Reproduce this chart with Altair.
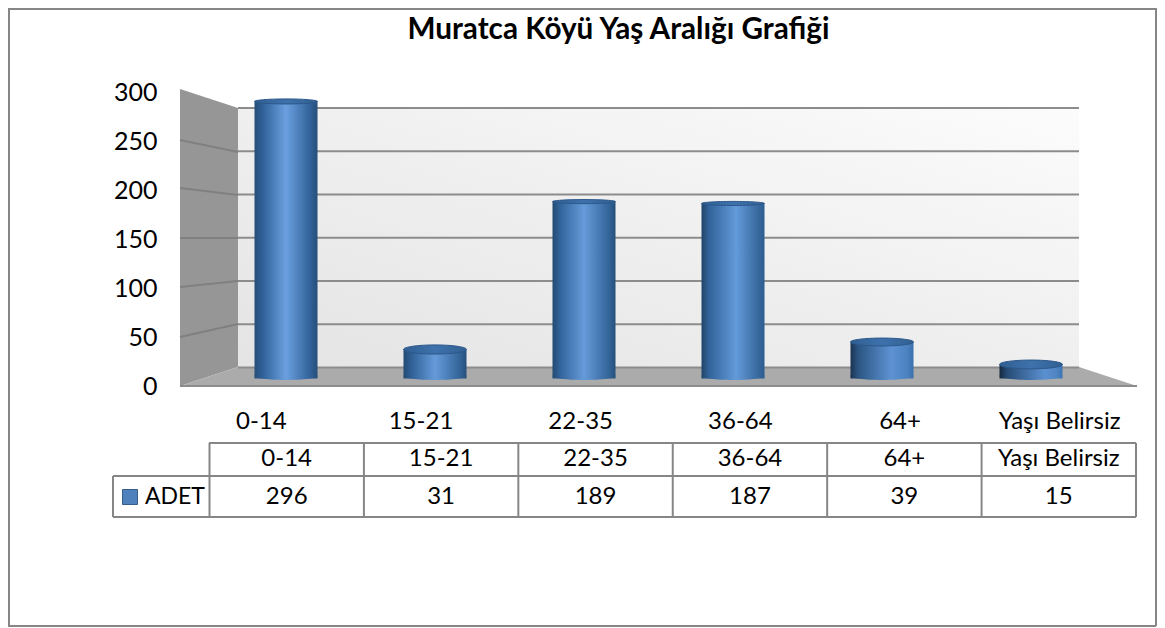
import altair as alt
import pandas as pd

categories = ["0-14", "15-21", "22-35", "36-64", "64+", "Yaşı Belirsiz"]
values = [296, 31, 189, 187, 39, 15]
tick_values = [0, 50, 100, 150, 200, 250, 300]
title_text = "Muratca Köyü Yaş Aralığı Grafiği"
series_name = "ADET"

W, H = 1149, 620
OX, OY = 8, 8            # page margin

FONT = "Lato"
TEXT = "#000000"
LINE = "#868686"

# shared page-pixel scale for the chart furniture (walls, frame, table)
px_x = alt.Scale(domain=[0, W], range=[0, W], nice=False, zero=False)
px_y = alt.Scale(domain=[0, H], range=[0, H], nice=False, zero=False)
# value scales: cylinders (front), back wall, left axis
cyl_y = alt.Scale(domain=[0, 300], range=[378.5 - OY, 97.7 - OY], nice=False)
wall_y = alt.Scale(domain=[0, 300], range=[367.5 - OY, 108 - OY], nice=False)
axis_y = alt.Scale(domain=[0, 300], range=[386.5 - OY, 92 - OY], nice=False)
cyl_x = alt.Scale(domain=categories, range=[211.5 - OX, 1105.5 - OX], paddingInner=0, paddingOuter=0)
lab_x = alt.Scale(domain=categories, range=[181 - OX, 1139 - OX], paddingInner=0, paddingOuter=0)
col_x = alt.Scale(domain=[0, 6], range=[209.5 - OX, 1136 - OX], nice=False, zero=False)


def segs(rows, **kw):
    df = pd.DataFrame(rows, columns=["x1", "y1", "x2", "y2"])
    df[["x1", "x2"]] -= OX
    df[["y1", "y2"]] -= OY
    return alt.Chart(df).mark_rule(**kw).encode(
        x=alt.X("x1:Q", scale=px_x, axis=None),
        x2="x2:Q",
        y=alt.Y("y1:Q", scale=px_y, axis=None),
        y2="y2:Q",
    )


def poly(xs, tops, bottoms, fill):
    df = pd.DataFrame({"x": xs, "t": tops, "b": bottoms})
    df["x"] -= OX
    df[["t", "b"]] -= OY
    return alt.Chart(df).mark_area(fill=fill, interpolate="linear", opacity=1).encode(
        x=alt.X("x:Q", scale=px_x, axis=None),
        y=alt.Y("t:Q", scale=px_y, axis=None),
        y2="b:Q",
    )


layers = []

# frame
layers.append(segs([
    [8, 9, 1156, 9], [8, 626, 1156, 626], [9, 8, 9, 626], [1156, 8, 1156, 626],
], color=LINE, strokeWidth=2))

# back wall, side wall, floor
back_grad = alt.LinearGradient(
    gradient="linear", x1=0, y1=1, x2=1, y2=0,
    stops=[alt.GradientStop(offset=0, color="#E4E4E4"),
           alt.GradientStop(offset=0.5, color="#EFEFEF"),
           alt.GradientStop(offset=1, color="#FCFCFC")],
)
layers.append(poly([238, 1079], [108, 108], [367, 367], back_grad))
layers.append(poly([180, 238], [89, 108], [386, 367], "#969696"))
layers.append(poly([180, 238, 1079, 1137], [386, 367, 367, 386], [386, 386, 386, 386], "#ABABAB"))

# gridlines on the back wall
layers.append(
    alt.Chart(pd.DataFrame({"v": tick_values}))
    .mark_rule(color="#8C8C8C", strokeWidth=2)
    .encode(y=alt.Y("v:Q", scale=wall_y, axis=None),
            x=alt.value(238 - OX), x2=alt.value(1079 - OX))
)
# gridlines on the side wall
layers.append(segs([
    [180, 337, 238, 324], [180, 287, 238, 281], [180, 238, 238, 238],
    [180, 188, 238, 195], [180, 140, 238, 152],
], color="#808080", strokeWidth=2))
# floor front edge
layers.append(segs([[180, 386, 1137, 386]], color="#8C8C8C", strokeWidth=2))

# cylinders
bar_w = 63
base_px = 376 - OY
body_styles = [
    ("#264E78", "#2F5F95", 0.5, "#6AA0E0", "#2F5F95", "#264E78"),
    ("#234A72", "#2F5F95", 0.5, "#659BDA", "#336498", "#264F7A"),
    ("#234A72", "#32639A", 0.5, "#659BDA", "#336498", "#264F7A"),
    ("#214468", "#32639A", 0.55, "#639ADA", "#38699E", "#2E5C8F"),
    ("#1C3350", "#2B5582", 0.65, "#5D92D2", "#4B82C0", "#3B70AB"),
    ("#16293F", "#274C76", 0.72, "#5A90D0", "#5085C3", "#3C74B2"),
]
ellipse_ratio = [0.08, 0.145, 0.065, 0.065, 0.125, 0.14]


def ellipse(r):
    return f"M-1,0 A1,{r} 0 1,1 1,0 A1,{r} 0 1,1 -1,0 Z"


for cat, val, st, r in zip(categories, values, body_styles, ellipse_ratio):
    row = pd.DataFrame({"c": [cat], "v": [val]})
    l, l2, peak, p, r2, rr = st
    grad = alt.LinearGradient(
        gradient="linear", x1=0, y1=0, x2=1, y2=0,
        stops=[alt.GradientStop(offset=0, color=l),
               alt.GradientStop(offset=0.12, color=l2),
               alt.GradientStop(offset=peak, color=p),
               alt.GradientStop(offset=0.9, color=r2),
               alt.GradientStop(offset=1, color=rr)],
    )
    top_grad = alt.LinearGradient(
        gradient="linear", x1=0, y1=0, x2=1, y2=0,
        stops=[alt.GradientStop(offset=0, color="#2F5E92"),
               alt.GradientStop(offset=0.5, color="#3E72AC"),
               alt.GradientStop(offset=1, color="#315F92")],
    )
    # bottom curve
    layers.append(
        alt.Chart(row).mark_point(
            filled=True, opacity=1, fill=grad, size=bar_w ** 2, shape=ellipse(0.125), strokeWidth=0
        ).encode(x=alt.X("c:N", scale=cyl_x, axis=None), y=alt.value(base_px))
    )
    # body
    layers.append(
        alt.Chart(row).mark_bar(size=bar_w, fill=grad, strokeWidth=0).encode(
            x=alt.X("c:N", scale=cyl_x, axis=None),
            y=alt.Y("v:Q", scale=cyl_y, axis=None),
            y2=alt.value(base_px),
        )
    )
    # top cap
    layers.append(
        alt.Chart(row).mark_point(
            filled=True, opacity=1, fill=top_grad, size=bar_w ** 2, shape=ellipse(r),
            stroke="#2C588A", strokeWidth=1
        ).encode(x=alt.X("c:N", scale=cyl_x, axis=None),
                 y=alt.Y("v:Q", scale=cyl_y, axis=None))
    )

# value axis labels (real axis, moved onto the side wall)
layers.append(
    alt.Chart(pd.DataFrame({"v": tick_values})).mark_point(opacity=0).encode(
        y=alt.Y("v:Q", scale=axis_y, axis=alt.Axis(
            values=tick_values, title=None, domain=False, ticks=False, grid=False,
            labelFont=FONT, labelFontSize=25, labelColor=TEXT, offset=-160, labelPadding=11)),
    )
)
# category axis labels
layers.append(
    alt.Chart(pd.DataFrame({"c": categories})).mark_point(opacity=0).encode(
        x=alt.X("c:N", scale=lab_x, axis=alt.Axis(
            title=None, domain=False, ticks=False, grid=False, labelAngle=0,
            labelFont=FONT, labelFontSize=24, labelColor=TEXT, orient="bottom",
            offset=-(H - (421 - OY)), labelPadding=0, labelBaseline="middle")),
    )
)

# data table grid
col_lines = pd.DataFrame({"i": [0, 1, 2, 3, 4, 5, 6]})
layers.append(
    alt.Chart(col_lines).mark_rule(color=LINE, strokeWidth=2).encode(
        x=alt.X("i:Q", scale=col_x, axis=None),
        y=alt.value(443 - OY), y2=alt.value(517 - OY))
)
layers.append(segs([
    [209, 443, 1136, 443], [113, 476, 1136, 476], [113, 517, 1136, 517], [113, 476, 113, 517],
], color=LINE, strokeWidth=2))

# table text
tab = pd.DataFrame({"i": [k + 0.5 for k in range(6)], "c": categories, "v": values})
layers.append(
    alt.Chart(tab).mark_text(font=FONT, fontSize=24, color=TEXT).encode(
        x=alt.X("i:Q", scale=col_x, axis=None), y=alt.value(459 - OY), text="c:N")
)
layers.append(
    alt.Chart(tab).mark_text(font=FONT, fontSize=24, color=TEXT).encode(
        x=alt.X("i:Q", scale=col_x, axis=None), y=alt.value(497 - OY), text="v:Q")
)
# legend key in the table
leg = pd.DataFrame({"s": [series_name]})
layers.append(
    alt.Chart(leg).mark_square(size=225, fill="#4F81BD", stroke="#385D8A", strokeWidth=1, opacity=1).encode(
        x=alt.value(130 - OX), y=alt.value(497 - OY))
)
layers.append(
    alt.Chart(leg).mark_text(font=FONT, fontSize=23, color=TEXT, align="left").encode(
        x=alt.value(145 - OX), y=alt.value(497 - OY), text="s:N")
)

chart = (
    alt.layer(*layers)
    .resolve_scale(x="independent", y="independent")
    .properties(
        width=W, height=H, padding=0,
        autosize=alt.AutoSizeParams(type="none"),
        background="white",
        title=alt.TitleParams(
            title_text, font=FONT, fontSize=29.7, fontWeight="bold", color=TEXT,
            anchor="middle", dx=36, offset=-53, baseline="middle", frame="group"),
    )
    .configure_view(strokeWidth=0)
)

chart.save("out.html", embed_options={"renderer": "svg", "actions": False})
